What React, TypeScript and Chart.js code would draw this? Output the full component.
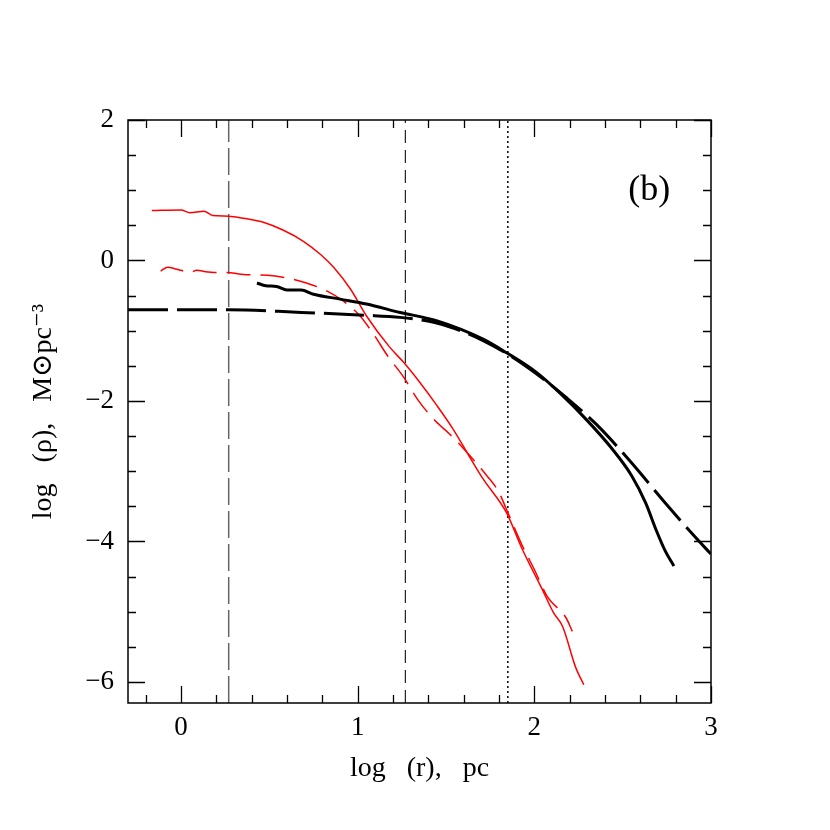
import React, { useEffect, useRef } from "react";
import { Chart, registerables } from "chart.js";

Chart.register(...registerables);

// ---- data ----
const redSolidX = [-0.165, 0.0, 0.05, 0.13, 0.18, 0.27, 0.355, 0.47, 0.58, 0.695, 0.79, 0.865, 0.96, 1.05, 1.18, 1.26, 1.35, 1.45, 1.54, 1.63, 1.71, 1.84, 1.93, 2.05, 2.11, 2.16, 2.235, 2.28];
const redSolidY = [0.71, 0.72, 0.68, 0.70, 0.64, 0.63, 0.60, 0.54, 0.43, 0.27, 0.085, -0.10, -0.41, -0.79, -1.23, -1.45, -1.73, -2.07, -2.40, -2.78, -3.11, -3.58, -4.10, -4.71, -5.02, -5.21, -5.80, -6.04];

const redDashX = [-0.115, -0.075, -0.03, 0.0, 0.05, 0.09, 0.14, 0.19, 0.26, 0.355, 0.49, 0.60, 0.71, 0.83, 0.92, 1.01, 1.09, 1.17, 1.26, 1.34, 1.43, 1.52, 1.60, 1.73, 1.80, 1.84, 1.93, 2.0, 2.07, 2.10, 2.14, 2.18, 2.215];
const redDashY = [-0.15, -0.095, -0.12, -0.14, -0.17, -0.14, -0.16, -0.17, -0.17, -0.20, -0.21, -0.25, -0.32, -0.44, -0.58, -0.78, -1.05, -1.36, -1.66, -1.98, -2.26, -2.47, -2.68, -3.06, -3.30, -3.53, -4.05, -4.40, -4.77, -4.87, -4.97, -5.09, -5.28];

const blackSolidX = [0.43, 0.48, 0.54, 0.60, 0.68, 0.75, 0.90, 1.05, 1.24, 1.45, 1.71, 1.84, 2.01, 2.15, 2.30, 2.44, 2.55, 2.63, 2.69, 2.74, 2.79];
const blackSolidY = [-0.32, -0.36, -0.37, -0.42, -0.42, -0.48, -0.55, -0.62, -0.74, -0.86, -1.12, -1.31, -1.59, -1.90, -2.28, -2.68, -3.06, -3.45, -3.84, -4.13, -4.35];

const blackDashX = [-0.3, 0.27, 0.68, 1.05, 1.24, 1.43, 1.55, 1.71, 1.86, 2.01, 2.18, 2.35, 2.55, 2.74, 2.89, 3.0];
const blackDashY = [-0.70, -0.70, -0.74, -0.78, -0.81, -0.88, -0.97, -1.14, -1.35, -1.61, -1.95, -2.33, -2.88, -3.45, -3.88, -4.18];

const vLineLongX = 0.27;
const vLineShortX = 1.27;
const vLineDotX = 1.85;

const xMin = -0.3;
const xMax = 3;
const yMin = -6.3;
const yMax = 2;

const xMajorTicks = [0, 1, 2, 3];
const xMinorTicks = [-0.2, 0.2, 0.4, 0.6, 0.8, 1.2, 1.4, 1.6, 1.8, 2.2, 2.4, 2.6, 2.8];
const yMajorTicks = [-6, -4, -2, 0, 2];
const yMinorTicks = [-5.5, -5, -4.5, -3.5, -3, -2.5, -1.5, -1, -0.5, 0.5, 1, 1.5];

const panelLabel = "(b)";
const panelLabelX = 2.65;
const panelLabelY = 1.0;

const xTitle = "log\u2002 (r),\u2002 pc";
const yTitle = "log\u2002 (\u03c1),\u2002 M\u2299pc\u207b\u00b3";

const SERIF = "'Liberation Serif', 'DejaVu Serif', serif";

const pts = (xs: number[], ys: number[]) => xs.map((x, i) => ({ x, y: ys[i] }));
const fmt = (v: number) => (v < 0 ? "\u2212" + Math.abs(v) : String(v));

const framePlugin = {
  id: "frameTicks",
  afterDatasetsDraw(chart: any) {
    const { ctx, chartArea: a, scales } = chart;
    const xs = scales.x;
    const ys = scales.y;
    ctx.save();
    ctx.strokeStyle = "#000";
    ctx.lineWidth = 1.5;
    ctx.setLineDash([]);
    ctx.strokeRect(a.left, a.top, a.right - a.left, a.bottom - a.top);
    ctx.lineWidth = 1.3;
    const majorLen = 17;
    const minorLen = 8;
    const drawX = (v: number, len: number) => {
      const px = Math.round(xs.getPixelForValue(v)) + 0.5;
      ctx.beginPath();
      ctx.moveTo(px, a.bottom);
      ctx.lineTo(px, a.bottom - len);
      ctx.moveTo(px, a.top);
      ctx.lineTo(px, a.top + len);
      ctx.stroke();
    };
    const drawY = (v: number, len: number) => {
      const py = Math.round(ys.getPixelForValue(v)) + 0.5;
      ctx.beginPath();
      ctx.moveTo(a.left, py);
      ctx.lineTo(a.left + len, py);
      ctx.moveTo(a.right, py);
      ctx.lineTo(a.right - len, py);
      ctx.stroke();
    };
    xMajorTicks.forEach((v) => drawX(v, majorLen));
    xMinorTicks.forEach((v) => drawX(v, minorLen));
    yMajorTicks.forEach((v) => drawY(v, majorLen));
    yMinorTicks.forEach((v) => drawY(v, minorLen));

    ctx.fillStyle = "#000";
    ctx.font = `36px ${SERIF}`;
    ctx.textAlign = "center";
    ctx.textBaseline = "middle";
    ctx.fillText(panelLabel, xs.getPixelForValue(panelLabelX), ys.getPixelForValue(panelLabelY));
    ctx.restore();
  },
};

export default function App() {
  const ref = useRef<HTMLCanvasElement | null>(null);

  useEffect(() => {
    if (!ref.current) return;
    const chart = new Chart(ref.current, {
      type: "line",
      data: {
        datasets: [
          {
            data: pts(blackSolidX, blackSolidY),
            borderColor: "#000",
            borderWidth: 3,
            pointRadius: 0,
            cubicInterpolationMode: "monotone",
          },
          {
            data: pts(blackDashX, blackDashY),
            borderColor: "#000",
            borderWidth: 3,
            borderDash: [40, 9],
            pointRadius: 0,
            cubicInterpolationMode: "monotone",
          },
          {
            data: pts(redSolidX, redSolidY),
            borderColor: "#ff0000",
            borderWidth: 1.5,
            pointRadius: 0,
            cubicInterpolationMode: "monotone",
          },
          {
            data: pts(redDashX, redDashY),
            borderColor: "#ff0000",
            borderWidth: 1.5,
            borderDash: [24, 10],
            pointRadius: 0,
            cubicInterpolationMode: "monotone",
          },
          {
            data: [{ x: vLineLongX, y: yMin }, { x: vLineLongX, y: yMax }],
            borderColor: "#666666",
            borderWidth: 1.5,
            borderDash: [27, 6],
            pointRadius: 0,
            tension: 0,
          },
          {
            data: [{ x: vLineShortX, y: yMin }, { x: vLineShortX, y: yMax }],
            borderColor: "#222222",
            borderWidth: 1.2,
            borderDash: [13, 7],
            pointRadius: 0,
            tension: 0,
          },
          {
            data: [{ x: vLineDotX, y: yMin }, { x: vLineDotX, y: yMax }],
            borderColor: "#000",
            borderWidth: 1.5,
            borderDash: [2, 3],
            pointRadius: 0,
            tension: 0,
          },
        ],
      },
      options: {
        responsive: false,
        animation: false,
        devicePixelRatio: 1,
        layout: { padding: { top: 120, right: 119, left: 0, bottom: 0 } },
        plugins: { legend: { display: false }, tooltip: { enabled: false } },
        scales: {
          x: {
            type: "linear",
            position: "bottom",
            min: xMin,
            max: xMax,
            grid: { display: false, drawTicks: false },
            border: { display: false },
            afterBuildTicks: (s: any) => {
              s.ticks = xMajorTicks.map((v) => ({ value: v }));
            },
            afterFit: (s: any) => {
              s.height = 127;
            },
            ticks: {
              autoSkip: false,
              maxRotation: 0,
              padding: 9,
              color: "#000",
              font: { family: SERIF, size: 27 },
              callback: (v: any) => fmt(Number(v)),
            },
            title: {
              display: true,
              text: xTitle,
              color: "#000",
              font: { family: SERIF, size: 28 },
              padding: { top: 0, bottom: 45 },
            },
          },
          y: {
            type: "linear",
            position: "left",
            min: yMin,
            max: yMax,
            grid: { display: false, drawTicks: false },
            border: { display: false },
            afterBuildTicks: (s: any) => {
              s.ticks = yMajorTicks.map((v) => ({ value: v }));
            },
            afterFit: (s: any) => {
              s.width = 128;
            },
            ticks: {
              autoSkip: false,
              padding: 14,
              color: "#000",
              font: { family: SERIF, size: 27 },
              callback: (v: any) => fmt(Number(v)),
            },
            title: {
              display: true,
              text: yTitle,
              color: "#000",
              font: { family: SERIF, size: 28 },
              padding: { top: 27, bottom: 0 },
            },
          },
        },
      },
      plugins: [framePlugin],
    } as any);
    return () => chart.destroy();
  }, []);

  return (
    <div style={{ position: "fixed", left: 0, top: 0, width: 830, height: 830, background: "#fff" }}>
      <canvas ref={ref} width={830} height={830} style={{ width: 830, height: 830, display: "block" }} />
    </div>
  );
}
